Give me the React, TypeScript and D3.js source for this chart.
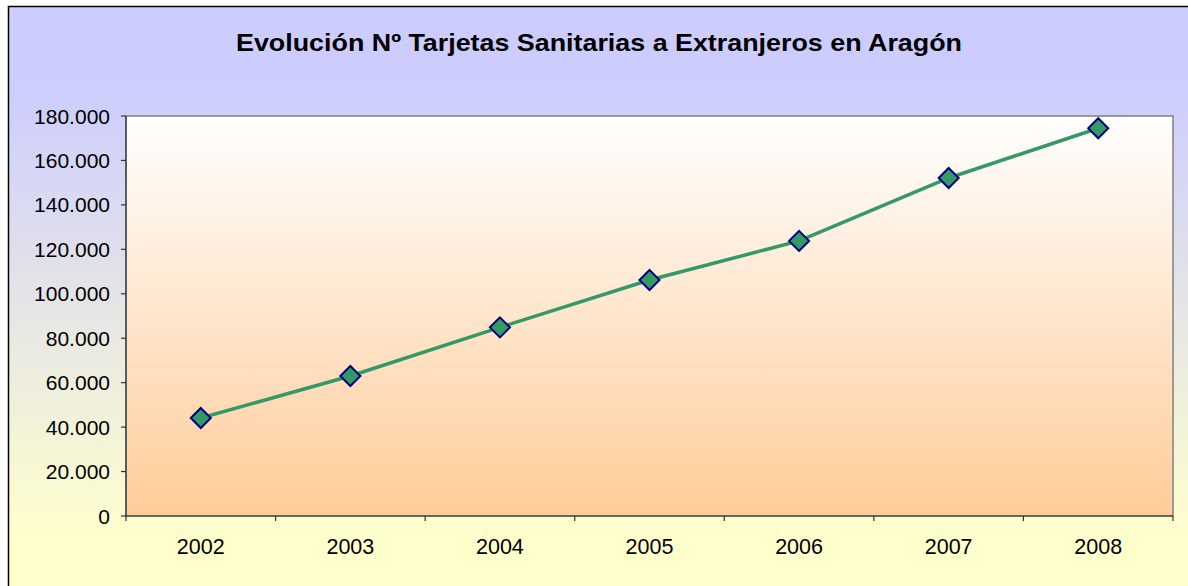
import React from "react";
import * as d3 from "d3";

const years = ["2002", "2003", "2004", "2005", "2006", "2007", "2008"];
const cards = [44100, 63000, 84900, 106200, 123800, 152100, 174500];
const yTicks = [0, 20000, 40000, 60000, 80000, 100000, 120000, 140000, 160000, 180000];
const title = "Evolución Nº Tarjetas Sanitarias a Extranjeros en Aragón";

const W = 1188;
const H = 586;
const plot = { left: 126, right: 1173, top: 116, bottom: 516 };
const FONT = "'Liberation Sans', Arial, sans-serif";

const locale = d3.formatLocale({ decimal: ",", thousands: ".", grouping: [3], currency: ["", "€"] });
const fmt = locale.format(",.0f");

export default function App() {
  const x = d3.scaleBand<string>().domain(years).range([plot.left, plot.right]).padding(0);
  const y = d3.scaleLinear().domain([0, 180000]).range([plot.bottom, plot.top]);
  const cx = (d: string) => (x(d) as number) + x.bandwidth() / 2;
  const line = d3
    .line<number>()
    .x((_, i) => cx(years[i]))
    .y((v) => y(v));
  const boundaries = years.map((d) => x(d) as number).concat([plot.right]);
  const r = 10;

  return (
    <svg
      width={W}
      height={H}
      style={{ position: "absolute", left: 0, top: 0, display: "block" }}
      fontFamily={FONT}
    >
      <defs>
        <linearGradient id="bg" gradientUnits="userSpaceOnUse" x1="0" y1="80" x2="0" y2="540">
          <stop offset="0" stopColor="#CCCCFF" />
          <stop offset="1" stopColor="#FFFFCC" />
        </linearGradient>
        <linearGradient id="pa" gradientUnits="userSpaceOnUse" x1="0" y1={plot.top} x2="0" y2={plot.bottom}>
          <stop offset="0" stopColor="#FFFFFF" />
          <stop offset="1" stopColor="#FFCC99" />
        </linearGradient>
      </defs>
      <rect x={0} y={0} width={W} height={H} fill="#FFFFFF" />
      <rect x={8.5} y={6.5} width={W + 10} height={H + 10} fill="url(#bg)" stroke="#000" strokeWidth={1.5} />
      <text
        x={599}
        y={51}
        textAnchor="middle"
        fontSize={24}
        fontWeight="bold"
        fill="#000"
        textLength={726}
        lengthAdjust="spacingAndGlyphs"
      >
        {title}
      </text>
      <rect
        x={plot.left}
        y={plot.top}
        width={plot.right - plot.left}
        height={plot.bottom - plot.top}
        fill="url(#pa)"
        stroke="#808080"
        strokeWidth={1.5}
      />
      {/* y axis */}
      <line x1={plot.left} x2={plot.left} y1={plot.top} y2={plot.bottom} stroke="#333" strokeWidth={1.2} />
      {yTicks.map((t) => (
        <g key={t}>
          <line x1={plot.left - 5} x2={plot.left} y1={y(t)} y2={y(t)} stroke="#333" strokeWidth={1.2} />
          <text x={110} y={y(t)} textAnchor="end" dominantBaseline="central" fontSize={21} fill="#000">
            {fmt(t)}
          </text>
        </g>
      ))}
      {/* x axis */}
      <line x1={plot.left} x2={plot.right} y1={plot.bottom} y2={plot.bottom} stroke="#333" strokeWidth={1.2} />
      {boundaries.map((b, i) => (
        <line key={i} x1={b} x2={b} y1={plot.bottom} y2={plot.bottom + 5} stroke="#333" strokeWidth={1.2} />
      ))}
      {years.map((d) => (
        <text key={d} x={cx(d)} y={547} textAnchor="middle" dominantBaseline="central" fontSize={21.5} fill="#000">
          {d}
        </text>
      ))}
      <path d={line(cards) as string} fill="none" stroke="#339966" strokeWidth={3.5} />
      {cards.map((v, i) => {
        const px = cx(years[i]);
        const py = y(v);
        return (
          <path
            key={i}
            d={`M${px},${py - r}L${px + r},${py}L${px},${py + r}L${px - r},${py}Z`}
            fill="#339966"
            stroke="#000080"
            strokeWidth={2}
          />
        );
      })}
    </svg>
  );
}
